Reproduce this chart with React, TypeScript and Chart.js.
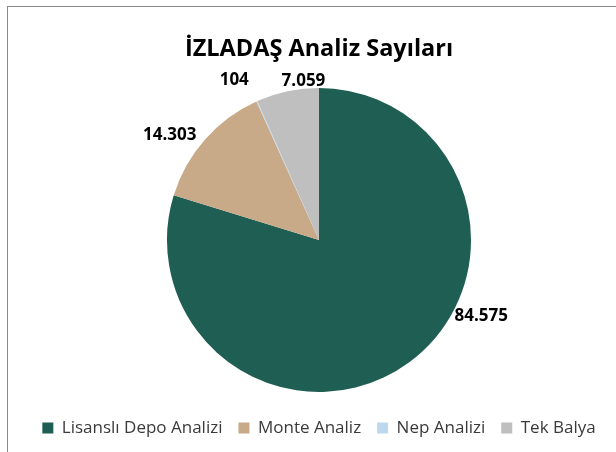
import React, { useEffect, useRef } from "react";
import { Chart, registerables } from "chart.js";

Chart.register(...registerables);

const TITLE = "İZLADAŞ Analiz Sayıları";
const categories = ["Lisanslı Depo Analizi", "Monte Analiz", "Nep Analizi", "Tek Balya"];
const values = [84575, 14303, 104, 7059];
const colors = ["#1F5E53", "#C9AA88", "#BDD7EE", "#BFBFBF"];

// label placement: angle offset (deg) from slice middle, distance as factor of radius
const labelPlacement = [
  { dAngle: -28.3, dist: 1.18 },
  { dAngle: -6.3, dist: 1.2 },
  { dAngle: -3.8, dist: 1.19 },
  { dAngle: 6.4, dist: 1.05 },
];

const FONT = "'Open Sans', 'Noto Sans', sans-serif";

function fmt(v: number): string {
  return String(v).replace(/\B(?=(\d{3})+(?!\d))/g, ".");
}

const sliceLabels = {
  id: "sliceLabels",
  afterDatasetsDraw(chart: any) {
    const meta = chart.getDatasetMeta(0);
    const ctx = chart.ctx;
    ctx.save();
    ctx.font = `bold 17px ${FONT}`;
    ctx.fillStyle = "#000000";
    ctx.textAlign = "center";
    ctx.textBaseline = "middle";
    meta.data.forEach((arc: any, i: number) => {
      const p = arc.getProps(["x", "y", "startAngle", "endAngle", "outerRadius"], true);
      const pl = labelPlacement[i];
      const mid = (p.startAngle + p.endAngle) / 2 + (pl.dAngle * Math.PI) / 180;
      const r = p.outerRadius * pl.dist;
      ctx.fillText(fmt(values[i]), p.x + Math.cos(mid) * r, p.y + Math.sin(mid) * r);
    });
    ctx.restore();
  },
};

export default function App() {
  const ref = useRef<HTMLCanvasElement | null>(null);
  useEffect(() => {
    if (!ref.current) return;
    const chart = new Chart(ref.current, {
      type: "pie",
      data: {
        labels: categories,
        datasets: [
          {
            data: values,
            backgroundColor: colors,
            borderWidth: 0,
          },
        ],
      },
      options: {
        animation: false,
        responsive: false,
        maintainAspectRatio: false,
        layout: { padding: { left: 22, right: 0, top: 0, bottom: 5.5 } },
        plugins: {
          title: {
            display: true,
            text: TITLE,
            color: "#000000",
            font: { family: FONT, size: 23.5, weight: "bold", lineHeight: 1.2 },
            padding: { top: 35.4, bottom: 24.4 },
          },
          legend: {
            position: "bottom",
            title: {
              display: true,
              text: " ",
              padding: 0,
              font: { size: 10, lineHeight: 1.15 },
            },
            labels: {
              boxWidth: 11,
              boxHeight: 11,
              padding: 16,
              color: "#3a3a3a",
              font: { family: FONT, size: 17 },
            },
          },
          tooltip: { enabled: false },
        },
      },
      plugins: [sliceLabels],
    });
    return () => chart.destroy();
  }, []);

  return (
    <div style={{ position: "fixed", left: 0, top: 0, width: 616, height: 452, overflow: "hidden", background: "#fff" }}>
      <canvas ref={ref} width={616} height={452} style={{ position: "absolute", left: 0, top: 0 }} />
      <div
        style={{
          position: "absolute",
          left: 7,
          top: 6,
          width: 700,
          height: 600,
          borderTop: "1.5px solid #8a8a8a",
          borderLeft: "1.5px solid #8a8a8a",
          pointerEvents: "none",
        }}
      />
    </div>
  );
}
